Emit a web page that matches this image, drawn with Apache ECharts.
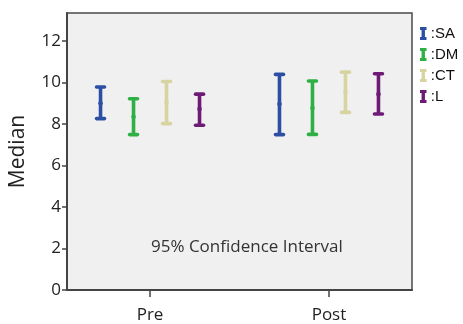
<!DOCTYPE html>
<html>
<head>
<meta charset="utf-8">
<script src="https://cdn.jsdelivr.net/npm/echarts@6/dist/echarts.min.js"></script>
<style>
html,body{margin:0;padding:0;background:#fff;}
#chart{width:463px;height:324px;}
</style>
</head>
<body>
<div id="chart"></div>
<script>
// Data
const categories = ['Pre', 'Post'];
const seriesNames = ['SA', 'DM', 'CT', 'L'];
const saLow = [8.26, 7.49], saMed = [9.00, 8.96], saHigh = [9.78, 10.39];
const dmLow = [7.49, 7.50], dmMed = [8.35, 8.77], dmHigh = [9.22, 10.07];
const ctLow = [8.02, 8.56], ctMed = [9.04, 9.52], ctHigh = [10.05, 10.50];
const lLow  = [7.94, 8.48], lMed  = [8.72, 9.44], lHigh  = [9.44, 10.42];
const yTicks = [0, 2, 4, 6, 8, 10, 12];
const noteText = '95% Confidence Interval';

const colors = ['#2c4fa3', '#2eb044', '#d8d4a2', '#6d1b76'];
const lows = [saLow, dmLow, ctLow, lLow];
const meds = [saMed, dmMed, ctMed, lMed];
const highs = [saHigh, dmHigh, ctHigh, lHigh];
const step = 0.1844;
const offsets = [-1.5 * step, -0.5 * step, 0.5 * step, 1.5 * step];

const chart = echarts.init(document.getElementById('chart'), null, {renderer: 'canvas'});

const iconPath = 'path://M0,0 L10,0 L10,4.5 L7.6,4.5 L7.6,15.5 L10,15.5 L10,20 L0,20 L0,15.5 L2.4,15.5 L2.4,4.5 L0,4.5 Z';

const series = seriesNames.map((name, si) => ({
  name: name,
  type: 'custom',
  itemStyle: {color: colors[si]},
  data: categories.map((c, ci) => [ci + 1, lows[si][ci], meds[si][ci], highs[si][ci]]),
  renderItem: function (params, api) {
    const x = api.value(0) + offsets[si];
    const lo = api.coord([x, api.value(1)]);
    const md = api.coord([x, api.value(2)]);
    const hi = api.coord([x, api.value(3)]);
    const col = colors[si];
    const cw = 4;
    return {
      type: 'group',
      children: [
        {type: 'line', shape: {x1: lo[0], y1: lo[1], x2: hi[0], y2: hi[1]}, style: {stroke: col, lineWidth: 3.6}},
        {type: 'line', shape: {x1: lo[0] - cw, y1: lo[1], x2: lo[0] + cw, y2: lo[1]}, style: {stroke: col, lineWidth: 3.6, lineCap: 'round'}},
        {type: 'line', shape: {x1: hi[0] - cw, y1: hi[1], x2: hi[0] + cw, y2: hi[1]}, style: {stroke: col, lineWidth: 3.6, lineCap: 'round'}},
        {type: 'circle', shape: {cx: md[0], cy: md[1], r: 2.3}, style: {fill: col}}
      ]
    };
  }
}));

chart.setOption({
  animation: false,
  backgroundColor: '#ffffff',
  title: {
    text: noteText,
    left: 146,
    top: 234,
    textStyle: {fontFamily: 'Open Sans', fontSize: 17, fontWeight: 'normal', color: '#333'}
  },
  grid: {
    left: 67, right: 51, top: 13, bottom: 34,
    show: true,
    backgroundColor: '#f0f0f0',
    borderColor: '#4a4a4a',
    borderWidth: 1.5
  },
  legend: {
    orient: 'vertical',
    left: 415,
    top: 21,
    itemWidth: 7,
    itemHeight: 13,
    itemGap: 6,
    icon: iconPath,
    data: seriesNames,
    formatter: function (n) { return ':' + n; },
    textStyle: {fontFamily: 'Liberation Sans', fontSize: 15, color: '#111', padding: [0, 0, 0, -1]}
  },
  xAxis: {
    type: 'value',
    min: 0.536,
    max: 2.464,
    splitLine: {show: false},
    axisLine: {show: true, lineStyle: {color: '#444', width: 2}},
    axisTick: {show: true, customValues: [1, 2], length: 7, lineStyle: {color: '#444', width: 1.5}},
    axisLabel: {
      customValues: [1, 2],
      formatter: function (v) { return categories[Math.round(v) - 1] || ''; },
      fontFamily: 'Open Sans', fontSize: 17, color: '#222', margin: 17
    }
  },
  yAxis: {
    type: 'value',
    min: 0,
    max: 13.35,
    name: 'Median',
    nameLocation: 'middle',
    nameGap: 38,
    nameTextStyle: {fontFamily: 'Open Sans', fontSize: 21, color: '#222'},
    splitLine: {show: false},
    axisLine: {show: true, lineStyle: {color: '#444', width: 2}},
    axisTick: {show: true, customValues: yTicks, length: 5, lineStyle: {color: '#444', width: 1.5}},
    axisLabel: {
      customValues: yTicks,
      fontFamily: 'Open Sans', fontSize: 17, color: '#222', margin: 6
    }
  },
  series: series
});
</script>
</body>
</html>
